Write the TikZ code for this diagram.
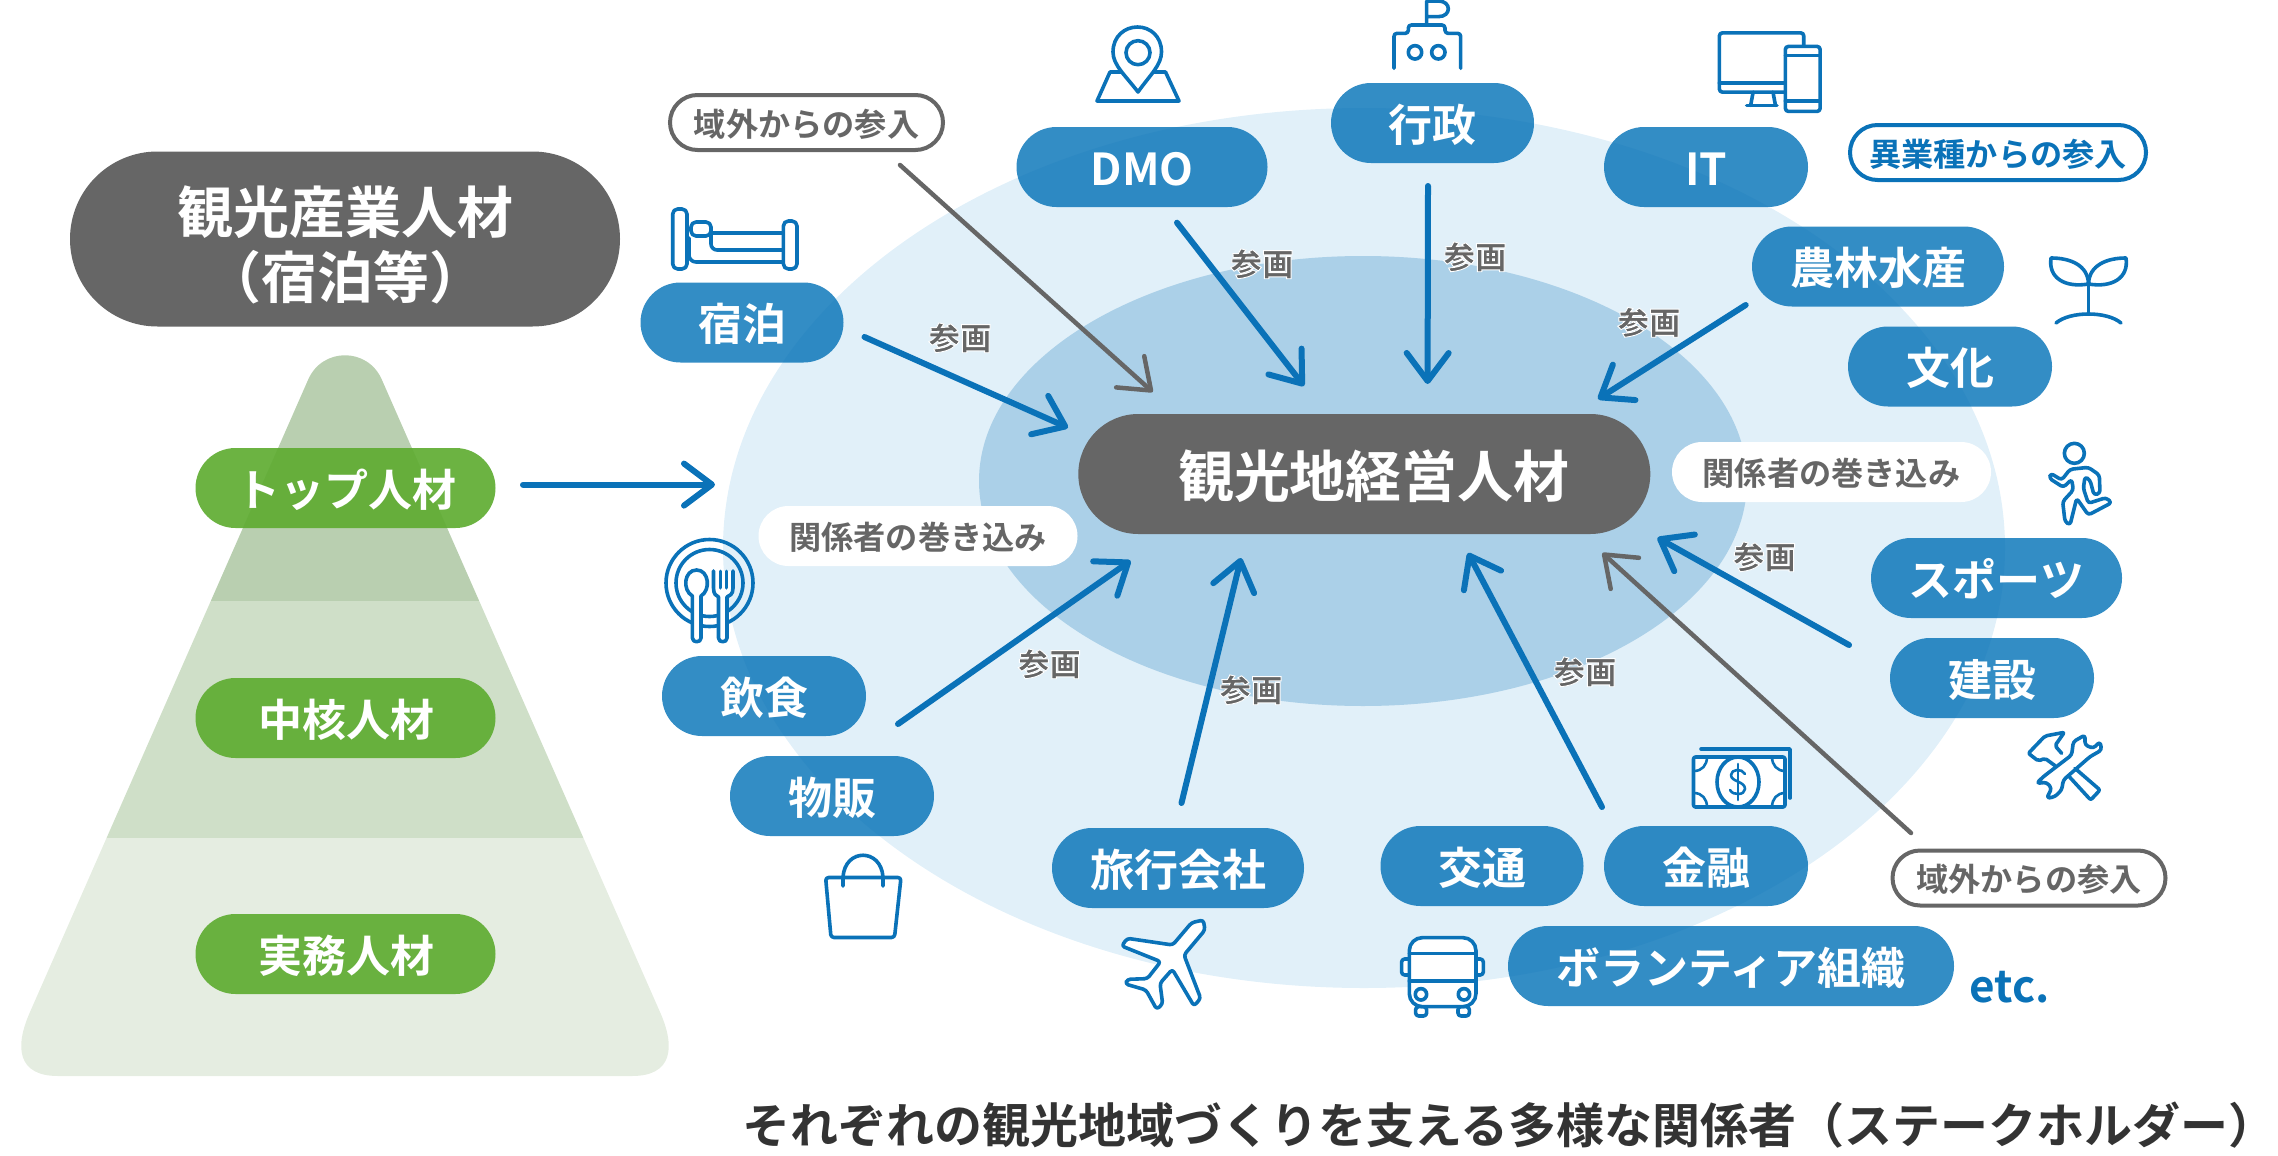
\documentclass[tikz,border=0pt]{standalone}
\usepackage{fontspec}
\usetikzlibrary{shapes.misc,arrows.meta}
\setmainfont{Noto Sans CJK JP}[BoldFont={Noto Sans CJK JP Bold}]
\newfontfamily\jpblack{Noto Sans CJK JP Black}
\definecolor{blueline}{HTML}{0A72B8}
\definecolor{bluefill}{HTML}{0070B6}
\definecolor{greyline}{HTML}{666666}
\definecolor{outerell}{HTML}{E1F0F9}
\definecolor{innerell}{HTML}{ABD0E8}
\definecolor{pyra}{HTML}{B9CFB0}
\definecolor{pyrb}{HTML}{CFDFC8}
\definecolor{pyrc}{HTML}{E5EDE1}
\definecolor{greenp}{HTML}{5FAC32}
\newcommand{\fsz}[1]{\fontsize{#1}{#1}\selectfont\bfseries}
\newcommand{\halotxt}[1]{\special{pdf:code q 2 Tr 1 1 1 RG 0.9 w}#1\special{pdf:code Q}}
\tikzset{
  x=1pt,y=-1pt,
  jpf/.style={font=\fsz{#1},text height=#1*0.92pt,text depth=#1*0.08pt},
  pillbase/.style={rounded rectangle,inner sep=0pt,text=white},
  bluepill/.style={pillbase,fill=bluefill,fill opacity=.8,text opacity=1,minimum height=80pt,jpf=44},
  greenpill/.style={pillbase,fill=greenp,fill opacity=.92,text opacity=1,minimum width=300pt,minimum height=80pt,jpf=44},
  greypill/.style={pillbase,fill=greyline},
  outgrey/.style={pillbase,draw=greyline,line width=4pt,fill=white,text=greyline,minimum width=273pt,minimum height=55pt,jpf=32.2},
  outblue/.style={pillbase,draw=blueline,line width=4pt,fill=white,text=blueline,minimum width=296pt,minimum height=55pt,jpf=32.2},
  whitepill/.style={pillbase,fill=white,text=greyline,minimum width=319pt,minimum height=60pt,jpf=32.2},
  sanka/.style={text=greyline,inner sep=0pt,font=\jpblack\fontsize{31.5}{31.5}\selectfont,text height=26pt,text depth=2.5pt},
  arr/.style={draw=blueline,line width=6pt,line cap=round,-{Straight Barb[length=28pt,width=42pt,round]}},
  garr/.style={draw=greyline,line width=4.5pt,line cap=round,-{Straight Barb[length=28pt,width=42pt,round]}},
  ic/.style={draw=blueline,line width=3.6pt,line join=round,line cap=round},
  icw/.style={ic,fill=white},
}
\begin{document}
\begin{tikzpicture}
\useasboundingbox (0,0) rectangle (2278,1156);
% pyramid
\begin{scope}
\clip (308,380) .. controls (322,347) and (368,347) .. (382,380) -- (660,1012) .. controls (676,1048) and (672,1076) .. (632,1076) -- (58,1076) .. controls (18,1076) and (14,1048) .. (30,1012) -- cycle;
\fill[pyra] (0,340) rectangle (700,601);
\fill[pyrb] (0,601) rectangle (700,838);
\fill[pyrc] (0,838) rectangle (700,1080);
\end{scope}
% ellipses
\fill[outerell] (1364,548) ellipse [x radius=641,y radius=440];
\fill[innerell] (1363,481) ellipse [x radius=384,y radius=225];
% title
\node[greypill,minimum width=550pt,minimum height=175pt] (title) at (345,239) {};
\node[text=white,font=\fontsize{56}{65}\selectfont\bfseries,align=center,inner sep=0pt] (titletext) at (345,244.5) {観光産業人材\\（宿泊等）};
% green pills
\node[greenpill] (top) at (345.5,488) {\kern2pt トップ人材};
\node[greenpill] (core) at (345.5,718) {\kern1pt 中核人材};
\node[greenpill] (prac) at (345.5,954) {\kern1pt 実務人材};
\coordinate (topend) at (715,484.6);
% hub and groups
\node[greypill,minimum width=572pt,minimum height=120pt,jpf=55.9] (hub) at (1364.3,474) {\kern19pt 観光地経営人材};
\node[bluepill,minimum width=251pt] (dmo) at (1142,167) {DMO};
\node[bluepill,minimum width=203pt] (stay) at (742,322.5) {宿泊};
\node[bluepill,minimum width=203pt] (gyo) at (1432.5,123) {行政};
\node[bluepill,minimum width=204pt] (it) at (1706,167) {IT};
\node[bluepill,minimum width=252pt] (agri) at (1878,266.5) {農林水産};
\node[bluepill,minimum width=204pt] (cult) at (1950,366.5) {文化};
\node[bluepill,minimum width=251pt] (sport) at (1996.5,578) {スポーツ};
\node[bluepill,minimum width=204pt] (kens) at (1992,678) {建設};
\node[bluepill,minimum width=204pt] (kin) at (1706,866) {金融};
\node[bluepill,minimum width=203pt] (kou) at (1482,866) {交通};
\node[bluepill,minimum width=446pt] (vol) at (1731,966) {ボランティア組織};
\node[bluepill,minimum width=252pt] (ryo) at (1178,868) {旅行会社};
\node[bluepill,minimum width=204pt] (buh) at (832,796) {物販};
\node[bluepill,minimum width=204pt] (ins) at (764,696) {飲食};
% outlined labels
\node[outgrey] (gait) at (806.5,122.5) {域外からの参入};
\node[outgrey] (gaib) at (2029,878) {域外からの参入};
\node[outblue] (igyo) at (1998,152.5) {異業種からの参入};
\node[whitepill] (makir) at (1831.5,472) {関係者の巻き込み};
\node[whitepill] (makil) at (918,536) {関係者の巻き込み};
% connectors
\draw[arr] ([shift={(177.5,-3.4)}]top.center) -- (topend);
\draw[arr] ([shift={(122.5,14.5)}]stay.center) -- ([shift={(-296.3,-46.3)}]hub.center);
\draw[garr] ([shift={(93.5,42.5)}]gait.center) -- ([shift={(-211.6,-82)}]hub.center);
\draw[arr] ([shift={(35,55.7)}]dmo.center) -- ([shift={(-60.3,-88)}]hub.center);
\draw[arr] ([shift={(-4.5,63)}]gyo.center) -- ([shift={(63.3,-90)}]hub.center);
\draw[arr] ([shift={(-132.3,38.5)}]agri.center) -- ([shift={(233.7,-75)}]hub.center);
\draw[arr] ([shift={(-147.5,67)}]sport.center) -- ([shift={(293.2,63.7)}]hub.center);
\draw[garr] ([shift={(-118,-45)}]gaib.center) -- ([shift={(238.1,79)}]hub.center);
\draw[arr] ([shift={(-104,-59)}]kin.center) -- ([shift={(103.7,79)}]hub.center);
\draw[arr] ([shift={(3.5,-65)}]ryo.center) -- ([shift={(-123.3,84)}]hub.center);
\draw[arr] ([shift={(66,-72)}]buh.center) -- ([shift={(-233.7,86.7)}]hub.center);
% participation labels
\node[sanka] (s1) at (960,338) {\halotxt{参画}};
\node[sanka] (s2) at (1262,264) {\halotxt{参画}};
\node[sanka] (s3) at (1475,257) {\halotxt{参画}};
\node[sanka] (s4) at (1649,322.5) {\halotxt{参画}};
\node[sanka] (s5) at (1764.5,557) {\halotxt{参画}};
\node[sanka] (s6) at (1585,672) {\halotxt{参画}};
\node[sanka] (s7) at (1251,690) {\halotxt{参画}};
\node[sanka] (s8) at (1049.5,664) {\halotxt{参画}};
% misc text
\node[text=blueline,inner sep=0pt,jpf=44] (etc) at (2010,984) {etc.};
\node[text=black!80,inner sep=0pt,jpf=48] (cap) at (1509.5,1123) {それぞれの観光地域づくりを支える多様な関係者（ステークホルダー）};
% ---- icons ----
% map pin
\draw[icw] (1110,72) -- (1165.5,72) -- (1179,101) -- (1097,101) -- cycle;
\draw[ic,fill=white] (1138,92) .. controls (1125,75) and (1113,65) .. (1113,52) .. controls (1113,36) and (1125,27) .. (1137.5,27) .. controls (1150,27) and (1161.5,36) .. (1161.5,52) .. controls (1161.5,65) and (1150,75) .. cycle;
\draw[ic] (1138,52.7) circle (12);
% government
\begin{scope}[xshift=1370pt,yshift=0pt,x=.3333pt,y=-.3333pt]
\draw[ic,rounded corners=3pt] (72,205) -- (72,100) -- (115,100) -- (115,75) -- (225,75) -- (225,100) -- (272,100) -- (272,205);
\draw[ic] (170,75) -- (170,3) -- (205,3) .. controls (245,3) and (245,50) .. (205,50) -- (170,50);
\draw[ic] (135,157) circle (6.7pt);
\draw[ic] (205,157) circle (6.7pt);
\end{scope}
% devices
\begin{scope}[xshift=1500pt,x=.4963pt,y=-.3571pt]
\draw[ic,rounded corners=3pt] (442,92) rectangle (612,258);
\draw[ic] (442,232) -- (612,232);
\draw[ic] (510,258) -- (505,295);
\draw[ic] (550,258) -- (555,295);
\draw[ic] (497,295) -- (558,295);
\draw[icw,rounded corners=3pt] (575,130) rectangle (645,312);
\draw[ic] (575,155) -- (645,155);
\draw[ic] (575,282) -- (645,282);
\end{scope}
% bed
\draw[ic,rounded corners=5pt] (672.7,209) rectangle (687,269);
\draw[ic,rounded corners=5pt] (783.4,221) rectangle (797,269);
\draw[ic,rounded corners=5pt] (691,222) rectangle (711,236);
\draw[ic] (711,233) -- (783,233);
\draw[ic,rounded corners=6pt] (711,233) -- (711,250) -- (783,250);
\draw[ic,rounded corners=7pt] (689,238) -- (689,262) -- (783,262);
% sprout
\draw[ic] (2051,258) .. controls (2070,258) and (2088,265) .. (2088.5,284) .. controls (2065,288) and (2048,278) .. cycle;
\draw[ic] (2126,258) .. controls (2107,258) and (2089,265) .. (2088.5,284) .. controls (2112,288) and (2129,278) .. cycle;
\draw[ic] (2088.5,284) -- (2088.5,314);
\draw[ic] (2056,323) .. controls (2070,311) and (2107,311) .. (2121,323);
% runner
\begin{scope}[xshift=2020pt,yshift=-430pt,x=.3333pt,y=-.3333pt]
\draw[ic] (163,70) circle (10pt);
\draw[ic,rounded corners=3pt] (92,130) -- (125,150) -- (150,118) -- (205,112) -- (238,135) -- (240,190) -- (222,195) -- (210,150) -- (195,140) -- (190,175) -- (205,220) -- (258,203) -- (275,218) -- (205,255) -- (170,205) -- (150,285) -- (135,275) -- (128,215) -- (160,180) -- (155,148) -- (130,172) -- (88,145) -- cycle;
\end{scope}
% tools
\begin{scope}[xshift=2020pt,yshift=-725pt,x=.3333pt,y=-.3333pt]
\draw[ic,rounded corners=2pt] (125,85) -- (105,62) -- (133,22) -- (75,33) -- (25,85) -- (55,108) -- (75,100) -- (105,122);
\draw[ic,rounded corners=2pt] (165,130) -- (240,195) -- (212,225) -- (145,152);
\draw[ic,rounded corners=3pt] (195,30) -- (160,50) -- (155,90) -- (70,155) -- (50,175) -- (80,172) -- (95,190) -- (80,220) -- (105,215) -- (125,195) -- (130,165) -- (210,95) -- (245,75) -- (240,50) -- (220,70) -- (195,60) -- cycle;
\end{scope}
% money
\draw[ic] (1701,749) -- (1790,749) -- (1790,798);
\draw[icw,rounded corners=2pt] (1693.5,757) rectangle (1785,807);
\draw[ic] (1738,782) ellipse [x radius=21,y radius=25];
\draw[ic,line width=2.6pt] (1745,774) .. controls (1742,768) and (1731,769) .. (1731,775) .. controls (1731,782) and (1745,781) .. (1745,789) .. controls (1745,795) and (1733,796) .. (1730,790);
\draw[ic,line width=2.6pt] (1738,764) -- (1738,800);
\draw[ic,line width=2.6pt] (1694,771) .. controls (1702,771) and (1707,765) .. (1707,757);
\draw[ic,line width=2.6pt] (1785,771) .. controls (1777,771) and (1772,765) .. (1772,757);
\draw[ic,line width=2.6pt] (1694,793) .. controls (1702,793) and (1707,799) .. (1707,807);
\draw[ic,line width=2.6pt] (1785,793) .. controls (1777,793) and (1772,799) .. (1772,807);
% dish
\draw[ic] (709.5,583) circle (43.5);
\draw[ic] (709.5,583) circle (33.5);
\draw[icw] (692.4,596) .. controls (682,590) and (684,570) .. (696.6,570) .. controls (709,570) and (711,590) .. (701,596) -- (701,638) .. controls (701,643) and (692.4,643) .. (692.4,638) -- cycle;
\draw[icw] (713.5,571) -- (713.5,588) .. controls (713.5,594) and (716,596) .. (718.5,597) -- (718.5,638) .. controls (718.5,643) and (727,643) .. (727,638) -- (727,597) .. controls (730,596) and (733,594) .. (733,588) -- (733,571);
\draw[ic,line width=3pt] (720,571) -- (720,588);
\draw[ic,line width=3pt] (726.5,571) -- (726.5,588);
% bag
\draw[ic,rounded corners=3pt,fill=white] (825.6,877.5) -- (901,877.5) -- (894.5,937.5) -- (831,937.5) -- cycle;
\draw[ic] (843,886) -- (843,877) .. controls (845,848) and (881,848) .. (883,877) -- (883,886);
% plane
\begin{scope}[xshift=1040pt,yshift=-780pt,x=.3333pt,y=-.3333pt]
\draw[icw,rounded corners=3pt] (490,420) -- (495,450) -- (432,525) -- (482,655) -- (462,678) -- (397,568) -- (360,610) -- (368,672) -- (350,688) -- (318,630) -- (256,612) -- (262,598) -- (322,596) -- (362,545) -- (245,498) -- (262,475) -- (398,495) -- (455,428) -- cycle;
\end{scope}
% bus
\begin{scope}[xshift=1040pt,yshift=-780pt,x=.3333pt,y=-.3333pt]
\draw[icw,rounded corners=3pt] (1127,680) -- (1127,708) -- (1160,708) -- (1160,680) -- cycle;
\draw[icw,rounded corners=3pt] (1254,680) -- (1254,708) -- (1288,708) -- (1288,680) -- cycle;
\draw[icw,rounded corners=3pt] (1108,537) -- (1085,537) -- (1085,585) -- (1108,585);
\draw[icw,rounded corners=3pt] (1308,537) -- (1330,537) -- (1330,585) -- (1308,585);
\draw[icw,rounded corners=13pt] (1108,680) -- (1108,473) -- (1308,473) -- (1308,680) -- cycle;
\draw[ic] (1108,520) -- (1308,520);
\draw[ic] (1108,603) -- (1308,603);
\draw[ic] (1143,643) circle (5.7pt);
\draw[ic] (1272,643) circle (5.7pt);
\end{scope}
\end{tikzpicture}
\end{document}
